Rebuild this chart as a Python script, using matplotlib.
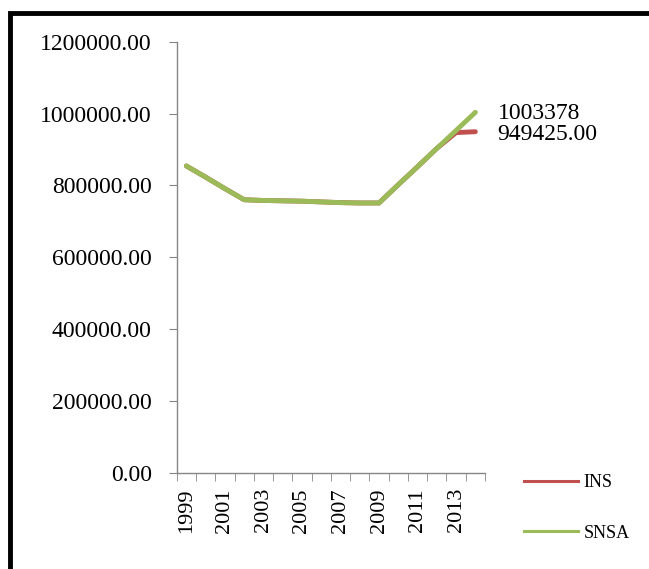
import matplotlib
matplotlib.use("Agg")
import matplotlib.pyplot as plt
from matplotlib.patches import Rectangle
from matplotlib.lines import Line2D

plt.rcParams["font.family"] = ["Liberation Serif", "DejaVu Serif"]

years = list(range(1999, 2015))
ins = [854000, 823000, 791000, 760000, 758000, 757000, 756000, 754000,
       752000, 751000, 751000, 802000, 852000, 903000, 947000, 949425]
snsa = [854000, 823000, 791000, 760000, 758000, 757000, 756000, 754000,
        752000, 751000, 751000, 802000, 852000, 903000, 953000, 1003378]
year_labels = [str(y) if (y - 1999) % 2 == 0 else "" for y in years]

fig = plt.figure(figsize=(6.49, 5.69), dpi=100)
ax = fig.add_axes([0.2723, 0.1692, 0.475, 0.7575])

x = list(range(len(years)))
ax.plot(x, ins, color="#C0504D", lw=3.5, solid_capstyle="round")
ax.plot(x, snsa, color="#9BBB59", lw=3.5, solid_capstyle="round")

ax.set_ylim(0, 1200000)
ax.set_yticks(range(0, 1200001, 200000))
ax.set_yticklabels([f"{v:.2f}" for v in range(0, 1200001, 200000)], fontsize=17)
ax.set_xlim(-0.5, len(years) - 0.5)
ax.set_xticks(x)
ax.set_xticklabels(year_labels, rotation=90, fontsize=16)
ax.set_xticks([i - 0.5 for i in range(len(years) + 1)], minor=True)
ax.tick_params(axis="x", which="major", length=0, pad=11)
ax.tick_params(axis="x", which="minor", length=6, color="#868686", direction="out")
ax.tick_params(axis="y", length=6, color="#868686", direction="out", pad=12)

for s in ["top", "right"]:
    ax.spines[s].set_visible(False)
for s in ["left", "bottom"]:
    ax.spines[s].set_color("#868686")
    ax.spines[s].set_linewidth(1)

ax.annotate("1003378", (x[-1], snsa[-1]), xytext=(16, -1), textcoords="offset points",
            va="center", ha="left", fontsize=17, annotation_clip=False)
ax.annotate(f"{ins[-1]:.2f}", (x[-1], ins[-1]), xytext=(16, -2), textcoords="offset points",
            va="center", ha="left", fontsize=17, annotation_clip=False)

handles = [Line2D([], [], color="#C0504D", lw=2.2), Line2D([], [], color="#9BBB59", lw=2.2)]
fig.legend(handles, ["INS", "SNSA"], loc="upper left", bbox_to_anchor=(0.782, 0.195),
           frameon=False, fontsize=13, handlelength=3.0, labelspacing=1.85,
           handletextpad=0.3)

fig.patches.append(Rectangle((10 / 649, -0.2), 1.2, 0.2 + 1 - 13 / 569,
                             transform=fig.transFigure, fill=False,
                             edgecolor="black", lw=3.5, clip_on=False))

fig.savefig("out.png", dpi=100)
